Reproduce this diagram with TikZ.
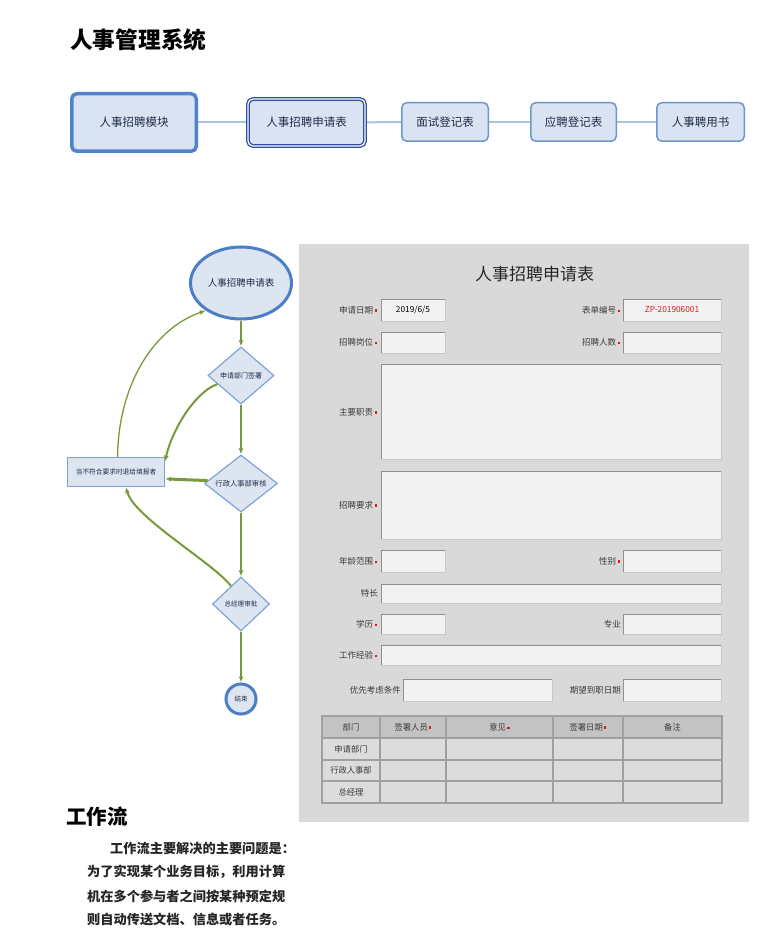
\documentclass[tikz,border=0pt]{standalone}
\usepackage{fontspec}
\setmainfont{Noto Sans CJK SC}
\usetikzlibrary{shapes.geometric,arrows.meta}
\definecolor{boxfill}{HTML}{DAE3F1}
\definecolor{boxline}{HTML}{6A96D4}
\definecolor{boxthick}{HTML}{4F83CC}
\definecolor{dblue}{HTML}{2D4F9E}
\definecolor{navy}{HTML}{1F2D4A}
\definecolor{topconn}{HTML}{A9C2E6}
\definecolor{fcblue}{HTML}{4A7EC6}
\definecolor{fcfill}{HTML}{DDE5F1}
\definecolor{dialine}{HTML}{7FA3D8}
\definecolor{fgreen}{HTML}{789A3C}
\definecolor{panel}{HTML}{D9D9D9}
\definecolor{fieldfill}{HTML}{F2F2F2}
\definecolor{fieldedge}{HTML}{8F8F8F}
\definecolor{fieldlight}{HTML}{C8C8C8}
\definecolor{thfill}{HTML}{C3C3C3}
\definecolor{tdfill}{HTML}{DCDCDC}
\definecolor{tgrid}{HTML}{A0A0A0}
\definecolor{reqred}{HTML}{E0191B}
\definecolor{lbltext}{HTML}{3A3A3A}
\definecolor{bodytext}{HTML}{262626}
\pgfdeclarelayer{bg}
\pgfdeclarelayer{paper}
\pgfsetlayers{paper,bg,main}
\newcommand\req{\,\raisebox{0.18em}{\textcolor{reqred}{\rule{2.2pt}{2.2pt}}}}
\newcommand\infield[4]{%
  \fill[fieldfill] (#1,#2) rectangle (#3,#4);
  \draw[fieldlight, line width=0.8pt] (#3,#2) -- (#3,#4) -- (#1,#4);
  \draw[fieldedge, line width=1pt] (#1,#4) -- (#1,#2) -- (#3,#2);}
\begin{document}
\begin{tikzpicture}[x=1pt,y=-1pt,
  topbox/.style={rounded corners=5pt, fill=boxfill, draw=boxline, line width=1.5pt,
    text=navy, font=\fontsize{11.5}{12}\selectfont, inner sep=0pt},
  topconnector/.style={draw=topconn, line width=2pt},
  dia/.style={diamond, aspect=1.2, draw=dialine, line width=1.2pt, fill=fcfill,
    inner sep=0pt, text=navy},
  flow/.style={draw=fgreen, line width=1.8pt, -{Latex[length=6pt,width=5pt]}},
  lbl/.style={anchor=east, inner sep=0pt, text=lbltext, font=\fontsize{8.5}{9}\selectfont},
  celltext/.style={inner sep=0pt, text=lbltext, font=\fontsize{8.3}{9}\selectfont},
  bodyline/.style={anchor=west, inner sep=0pt, text=bodytext, font=\fontsize{13.2}{14}\selectfont\bfseries}]
\begin{pgfonlayer}{paper}
\fill[white] (0,0) rectangle (783,949);
\end{pgfonlayer}
\useasboundingbox (0,0) rectangle (783,949);

% title
\node[anchor=west, inner sep=0pt, font=\fontsize{22.7}{24}\selectfont\bfseries] (title) at (70,40) {人事管理系统};

% top row
\node[topbox, draw=boxthick, line width=3.5pt, minimum width=124.5pt, minimum height=57.5pt] (m1) at (134,122.5) {人事招聘模块};
\node[topbox, draw=dblue, line width=1.3pt, double=white, double distance=1.2pt, minimum width=117pt, minimum height=47pt] (m2) at (306.5,122.5) {人事招聘申请表};
\node[topbox, minimum width=86.5pt, minimum height=38.5pt] (m3) at (445,122) {面试登记表};
\node[topbox, minimum width=85.5pt, minimum height=38.5pt] (m4) at (573.5,122) {应聘登记表};
\node[topbox, minimum width=87.5pt, minimum height=38.5pt] (m5) at (700.5,122) {人事聘用书};
\begin{pgfonlayer}{bg}
\draw[topconnector] (m1) -- (m2);
\draw[topconnector] (m2) -- (m3);
\draw[topconnector] (m3) -- (m4);
\draw[topconnector] (m4) -- (m5);
\end{pgfonlayer}

% flowchart
\node[ellipse, draw=fcblue, line width=3pt, fill=fcfill, minimum width=101pt, minimum height=72pt,
  inner sep=0pt, text=navy, font=\fontsize{9.5}{10}\selectfont] (ell) at (241,283) {人事招聘申请表};
\node[dia, minimum width=66pt, minimum height=57pt, font=\fontsize{7}{8}\selectfont] (d1) at (241,375.5) {申请部门签署};
\node[dia, minimum width=73pt, minimum height=57pt, font=\fontsize{7.3}{8}\selectfont] (d2) at (241,483.5) {行政人事部审核};
\node[dia, minimum width=57pt, minimum height=54pt, font=\fontsize{6.6}{7}\selectfont] (d3) at (241,604) {总经理审批};
\node[circle, draw=fcblue, line width=3pt, fill=fcfill, minimum size=30pt, inner sep=0pt,
  text=navy, font=\fontsize{6.5}{7}\selectfont] (end) at (241,699) {结束};
\node[rectangle, draw=dialine, line width=1pt, fill=fcfill, minimum width=97pt, minimum height=29pt,
  inner sep=0pt, text=navy, font=\fontsize{6.7}{7}\selectfont] (rej) at (116,472) {当不符合要求时退给填报者};

\draw[flow] (ell) -- (d1);
\draw[flow] (d1) -- (d2);
\draw[flow] (d2) -- (d3);
\draw[flow] (d3) -- (end);
\draw[flow, line width=2pt] (d1.200) .. controls (195,392) and (172,430) .. (rej.12);
\draw[flow, line width=3pt] (d2.175) -- (rej.-8);
\draw[flow, line width=2pt] (d3.119) .. controls (212,562) and (135,518) .. (rej.-57);
\draw[flow, line width=1.3pt] (rej.84) .. controls (118,390) and (150,330) .. (ell.218);

% form panel
\fill[panel] (299,244) rectangle (749,822);
\node[inner sep=0pt, text=bodytext, font=\fontsize{17}{18}\selectfont] (ftitle) at (534.5,274) {人事招聘申请表};

\infield{381}{299}{445}{321}
\node[celltext, text=black] (v1) at (413,310) {2019/6/5};
\node[lbl] (l1) at (377,310) {申请日期\req};
\infield{623}{299}{721}{321}
\node[celltext, text=reqred] (v2) at (672,310) {ZP-201906001};
\node[lbl] (l2) at (620,310) {表单编号\req};

\infield{381}{332}{445}{353}
\node[lbl] (l3) at (377,342.5) {招聘岗位\req};
\infield{623}{332}{721}{353}
\node[lbl] (l4) at (620,342.5) {招聘人数\req};

\infield{381}{364}{721}{459}
\node[lbl] (l5) at (377,412) {主要职责\req};
\infield{381}{471}{721}{539}
\node[lbl] (l6) at (377,505) {招聘要求\req};

\infield{381}{550}{445}{572}
\node[lbl] (l7) at (377,561) {年龄范围\req};
\infield{623}{550}{721}{572}
\node[lbl] (l8) at (620,561) {性别\req};

\infield{381}{584}{721}{603}
\node[lbl] (l9) at (378,593.5) {特长};

\infield{381}{614}{445}{634}
\node[lbl] (l10) at (377,624) {学历\req};
\infield{623}{614}{721}{634}
\node[lbl] (l11) at (621,624) {专业};

\infield{381}{645}{721}{665}
\node[lbl] (l12) at (377,655) {工作经验\req};

\infield{403}{679}{552}{701}
\node[lbl] (l13) at (401,690) {优先考虑条件};
\infield{623}{679}{721}{701}
\node[lbl] (l14) at (621,690) {期望到职日期};

% table
\fill[thfill] (322,716) rectangle (722,738);
\fill[tdfill] (322,738) rectangle (722,803);
\draw[tgrid, line width=1.2pt] (322,716) rectangle (722,803);
\foreach \cx in {380,446,553,623} \draw[tgrid, line width=1.2pt] (\cx,716) -- (\cx,803);
\foreach \ry in {738,760,781} \draw[tgrid, line width=1.2pt] (322,\ry) -- (722,\ry);
\node[celltext] (h1) at (351,727) {部门};
\node[celltext] (h2) at (413,727) {签署人员\req};
\node[celltext] (h3) at (499.5,727) {意见\req};
\node[celltext] (h4) at (588,727) {签署日期\req};
\node[celltext] (h5) at (672.5,727) {备注};
\node[celltext] (r1) at (351,749) {申请部门};
\node[celltext] (r2) at (351,770.5) {行政人事部};
\node[celltext] (r3) at (351,792) {总经理};

% bottom text
\node[anchor=west, inner sep=0pt, text=black, font=\fontsize{20.5}{22}\selectfont\bfseries] (wf) at (66,817) {工作流};
\node[bodyline] (p1) at (110,848) {工作流主要解决的主要问题是：};
\node[bodyline] (p2) at (87,872) {为了实现某个业务目标，利用计算};
\node[bodyline] (p3) at (87,896) {机在多个参与者之间按某种预定规};
\node[bodyline] (p4) at (87,919) {则自动传送文档、信息或者任务。};
\end{tikzpicture}
\end{document}
